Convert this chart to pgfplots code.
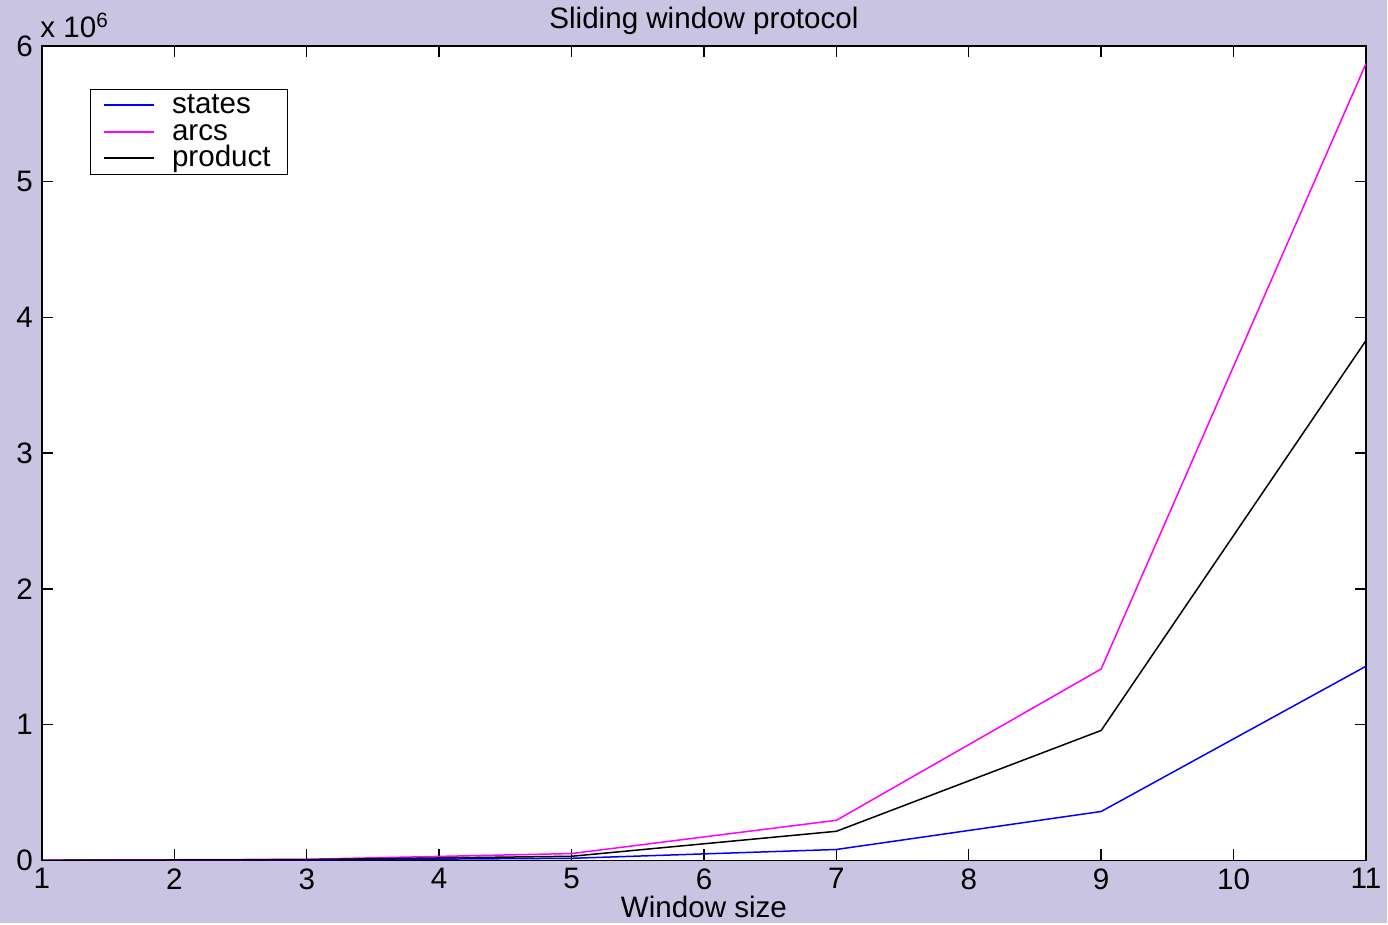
\documentclass[border=0pt]{standalone}
\usepackage{pgfplots}
\pgfplotsset{compat=1.18}
\usepackage{fontspec}
\setmainfont{Liberation Sans}
\usetikzlibrary{backgrounds}
\definecolor{bg}{RGB}{200,196,226}
\definecolor{mag}{RGB}{255,0,255}
\definecolor{blu}{RGB}{0,0,255}
\begin{document}
\begin{tikzpicture}
\begin{axis}[
  name=ax, scale only axis, width=662.5pt, height=407.5pt,
  xmin=1, xmax=11, ymin=0, ymax=6e6,
  xtick={1,2,...,11}, ytick={0,1000000,2000000,3000000,4000000,5000000,6000000},
  tick align=inside, major tick length=5.5pt,
  axis line style={line width=0.8pt},
  tick style={black, line width=0.7pt},
  axis background/.style={fill=white},
  font=\fontsize{14.8}{16}\selectfont,
  /pgf/number format/assume math mode=true,
  scaled y ticks=base 10:-6,
  ytick scale label code/.code={x 10\textsuperscript{6}},
  every y tick scale label/.style={at={(rel axis cs:0,1)}, anchor=base west, yshift=4pt, inner sep=0pt},
  xticklabel style={yshift=-0.5pt},
  yticklabel style={xshift=-1pt},
  title={Sliding window protocol},
  title style={yshift=-4pt},
  xlabel={Window size},
  xlabel style={yshift=3.5pt},
  legend style={at={(0.0362,0.9472)}, anchor=north west, draw=black, fill=white,
    font=\fontsize{14.8}{13}\selectfont, inner xsep=6.5pt, inner ysep=1.375pt, row sep=0pt,
    nodes={inner ysep=0.5pt, text height=10.25pt, text depth=2pt},
    /tikz/every odd column/.append style={column sep=6.5pt}},
  legend cell align=left,
  legend image code/.code={\draw[line width=0.9pt,#1] (0pt,0pt) -- (25pt,0pt);},
]
\addplot[draw=blu, line width=0.75pt] coordinates {(1,200) (3,3000) (5,15000) (7,80000) (9,360000) (11,1430000)};
\addlegendentry{states}
\addplot[draw=mag, line width=0.75pt] coordinates {(1,500) (3,8000) (5,50000) (7,295000) (9,1410000) (11,5870000)};
\addlegendentry{arcs}
\addplot[draw=black, line width=0.75pt] coordinates {(1,300) (3,5000) (5,30000) (7,214000) (9,957000) (11,3830000)};
\addlegendentry{product}
\end{axis}
\begin{scope}[on background layer]
\fill[bg] ([xshift=-21pt,yshift=-31.5pt]ax.south west) rectangle ([xshift=10.5pt,yshift=23pt]ax.north east);
\end{scope}
\end{tikzpicture}
\end{document}
